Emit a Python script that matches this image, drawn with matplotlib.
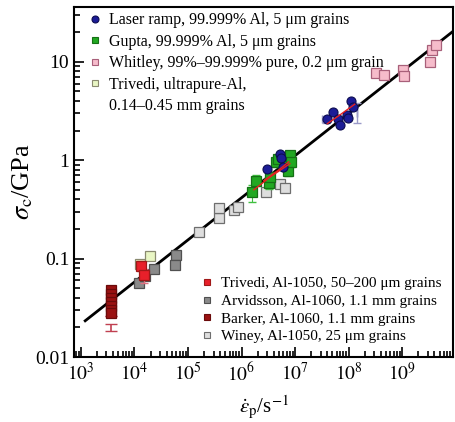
import numpy as np
import matplotlib
matplotlib.use("Agg")
import matplotlib.pyplot as plt
from matplotlib.lines import Line2D
from matplotlib.ticker import LogLocator, FixedLocator, FuncFormatter, NullFormatter

plt.rcParams['font.family'] = ['Liberation Serif', 'DejaVu Serif']
plt.rcParams['mathtext.fontset'] = 'stix'

# strain rate (1/s) and stress (GPa) for each data set
laser_x = [3.0e6, 5.2e6, 5.5e6, 6.0e6, 4.0e7, 5.1e7, 6.2e7, 6.9e7, 9.3e7, 9.8e7, 1.12e8, 1.2e8]
laser_y = [0.81, 1.15, 1.05, 0.85, 2.6, 3.1, 2.6, 2.3, 2.9, 2.65, 4.0, 3.5]

gupta_x = [1.6e6, 1.9e6, 3.2e6, 3.4e6, 4.4e6, 4.8e6, 6.8e6, 7.4e6, 8.2e6, 8.5e6]
gupta_y = [0.47, 0.62, 0.58, 0.68, 0.95, 1.02, 0.87, 0.78, 1.12, 0.95]
gupta_err = [0.09, 0.08, 0.07, 0.08, 0.1, 0.1, 0.1, 0.09, 0.12, 0.1]

whitley_x = [3.3e8, 4.6e8, 1.05e9, 1.08e9, 3.3e9, 3.6e9, 4.3e9]
whitley_y = [7.6, 7.3, 8.3, 7.2, 9.9, 13.3, 14.8]

triv_pure_x = [1.25e4, 1.95e4]
triv_pure_y = [0.089, 0.105]

triv_1050_x = [1.35e4, 1.5e4]
triv_1050_y = [0.085, 0.068]
triv_1050_err = [0.01, 0.011]

arvid_x = [1.23e4, 1.6e4, 2.3e4, 6.0e4, 5.7e4]
arvid_y = [0.056, 0.066, 0.079, 0.11, 0.087]

barker_x = [3.6e3] * 7
barker_y = [0.048, 0.044, 0.040, 0.036, 0.033, 0.030, 0.028]

winey_x = [1.6e5, 3.8e5, 3.8e5, 7.2e5, 8.5e5, 2.9e6, 5.2e6, 6.5e6]
winey_y = [0.187, 0.26, 0.33, 0.31, 0.335, 0.48, 0.57, 0.52]

# red trajectories through the laser ramp data
ramp_lo_x = [1.7e6, 3.5e6, 8.0e6]
ramp_lo_y = [0.50, 0.68, 0.92]
ramp_lo2_x = [2.6e6, 5.0e6, 7.6e6]
ramp_lo2_y = [0.62, 0.80, 0.96]
ramp_hi_x = [4.0e7, 7.0e7, 1.3e8]
ramp_hi_y = [2.35, 2.9, 3.7]

# power-law fit
fit_a = 10 ** -1.666
fit_n = 0.428
fit_x = np.logspace(np.log10(1.2e3), np.log10(8.5e9), 50)
fit_y = fit_a * (fit_x / 1e3) ** fit_n

x_major = [1e3, 1e4, 1e5, 1e6, 1e7, 1e8, 1e9]
y_major = [0.01, 0.1, 1, 10]

fig = plt.figure(figsize=(4.56, 4.22), dpi=100)
ax = fig.add_axes([74 / 456, 65 / 422, 379 / 456, 350 / 422])

ax.plot(fit_x, fit_y, color='black', lw=2.0, zorder=2)

ms = 6.5
sq = dict(marker='s', linestyle='none', markersize=ms, markeredgewidth=0.9)

# light grey, low-strain-rate sets
ax.plot(winey_x, winey_y, markerfacecolor='#dedede', markeredgecolor='#6e6e6e', zorder=3, **sq)
ax.plot(arvid_x, arvid_y, markerfacecolor='#8a8a8a', markeredgecolor='#505050', zorder=3, **sq)
ax.plot(triv_pure_x, triv_pure_y, markerfacecolor='#e9f6c4', markeredgecolor='#8a8a70', zorder=3, **sq)

ax.errorbar(triv_1050_x, triv_1050_y, yerr=[triv_1050_err, triv_1050_err], fmt='none',
            ecolor='#e07080', elinewidth=1, capsize=3, zorder=3)
ax.plot(triv_1050_x, triv_1050_y, markerfacecolor='#e8202a', markeredgecolor='#a01818', zorder=4, **sq)

ax.errorbar([barker_x[-1], barker_x[-1]], [0.026, 0.0215], yerr=[[0.0, 0.003], [0.0, 0.0]],
            fmt='none', ecolor='#c04050', elinewidth=1.2, capsize=4, zorder=3)
ax.plot(barker_x, barker_y, markerfacecolor='#9a1212', markeredgecolor='#6a0a0a', zorder=4, **sq)

# Gupta data with error bars
ax.errorbar(gupta_x, gupta_y, yerr=[gupta_err, gupta_err], fmt='none',
            ecolor='#40c040', elinewidth=0.8, capsize=3, zorder=3)
ax.plot(gupta_x, gupta_y, markerfacecolor='#22a822', markeredgecolor='#157015', zorder=4, **sq)

# laser ramp data
ax.errorbar([1.45e8, 3.8e7], [3.0, 2.6], xerr=[[0, 0.6e7], [0, 0]], yerr=[[0.6, 0.2], [0.8, 0.2]],
            fmt='none', ecolor='#9a9ac8', elinewidth=1, capsize=3, zorder=3)
ax.plot(laser_x, laser_y, marker='o', linestyle='none', markersize=6.5,
        markerfacecolor='#1c1c96', markeredgecolor='#0c0c50', markeredgewidth=0.8, zorder=5)
for rx, ry in [(ramp_lo_x, ramp_lo_y), (ramp_lo2_x, ramp_lo2_y), (ramp_hi_x, ramp_hi_y)]:
    ax.plot(rx, ry, color='#e82020', lw=1.0, zorder=6)

ax.plot(whitley_x, whitley_y, markerfacecolor='#f6bccb', markeredgecolor='#a8607a', zorder=4, **sq)

ax.set_xscale('log')
ax.set_yscale('log')
ax.set_xlim(10 ** 2.87, 10 ** 9.95)
ax.set_ylim(0.01, 10 ** 1.556)

ax.xaxis.set_major_locator(FixedLocator(x_major))
ax.xaxis.set_minor_locator(LogLocator(base=10, subs=np.arange(2, 10), numticks=12))
ax.yaxis.set_major_locator(FixedLocator(y_major))
ax.yaxis.set_minor_locator(LogLocator(base=10, subs=np.arange(2, 10), numticks=12))
ax.xaxis.set_minor_formatter(NullFormatter())
ax.yaxis.set_minor_formatter(NullFormatter())
ax.xaxis.set_major_formatter(FuncFormatter(lambda v, p: r'$10^{%d}$' % round(np.log10(v))))
ax.yaxis.set_major_formatter(FuncFormatter(lambda v, p: '%g' % v))

ax.tick_params(which='both', direction='in', top=False, right=False, labelsize=14, width=1.2)
ax.tick_params(which='major', length=7)
ax.tick_params(which='minor', length=4)
for s in ax.spines.values():
    s.set_linewidth(1.5)

ax.set_xlabel(r'$\dot{\varepsilon}_{\rm p}$/s$^{-1}$', fontsize=15, labelpad=6)
ax.set_ylabel(r'$\sigma_{\rm c}$/GPa', fontsize=19, labelpad=0)

def handle(**kw):
    return Line2D([], [], linestyle='none', markersize=5, markeredgewidth=0.8, **kw)

top_handles = [
    handle(marker='o', markerfacecolor='#1c1c96', markeredgecolor='#0c0c50'),
    handle(marker='s', markerfacecolor='#22a822', markeredgecolor='#157015'),
    handle(marker='s', markerfacecolor='#f6bccb', markeredgecolor='#a8607a'),
    handle(marker='s', markerfacecolor='#e9f6c4', markeredgecolor='#8a8a70'),
    Line2D([], [], linestyle='none'),
]
top_labels = [
    'Laser ramp, 99.999% Al, 5 μm grains',
    'Gupta, 99.999% Al, 5 μm grains',
    'Whitley, 99%–99.999% pure, 0.2 μm grain',
    'Trivedi, ultrapure-Al,',
    '0.14–0.45 mm grains',
]
leg1 = ax.legend(top_handles, top_labels, loc='upper left', bbox_to_anchor=(0.0385, 0.985),
                 frameon=False, fontsize=11.5, handlelength=0.8, handletextpad=0.5,
                 labelspacing=0.34, borderaxespad=0, borderpad=0)
ax.add_artist(leg1)

bot_handles = [
    handle(marker='s', markerfacecolor='#e8202a', markeredgecolor='#a01818'),
    handle(marker='s', markerfacecolor='#8a8a8a', markeredgecolor='#505050'),
    handle(marker='s', markerfacecolor='#9a1212', markeredgecolor='#6a0a0a'),
    handle(marker='s', markerfacecolor='#dedede', markeredgecolor='#6e6e6e'),
]
bot_labels = [
    'Trivedi, Al-1050, 50–200 μm grains',
    'Arvidsson, Al-1060, 1.1 mm grains',
    'Barker, Al-1060, 1.1 mm grains',
    'Winey, Al-1050, 25 μm grains',
]
ax.legend(bot_handles, bot_labels, loc='upper left', bbox_to_anchor=(0.3348, 0.2297),
          frameon=False, fontsize=11.0, handlelength=0.8, handletextpad=0.5,
          labelspacing=0.26, borderaxespad=0, borderpad=0)

fig.savefig('out.png', dpi=100)
